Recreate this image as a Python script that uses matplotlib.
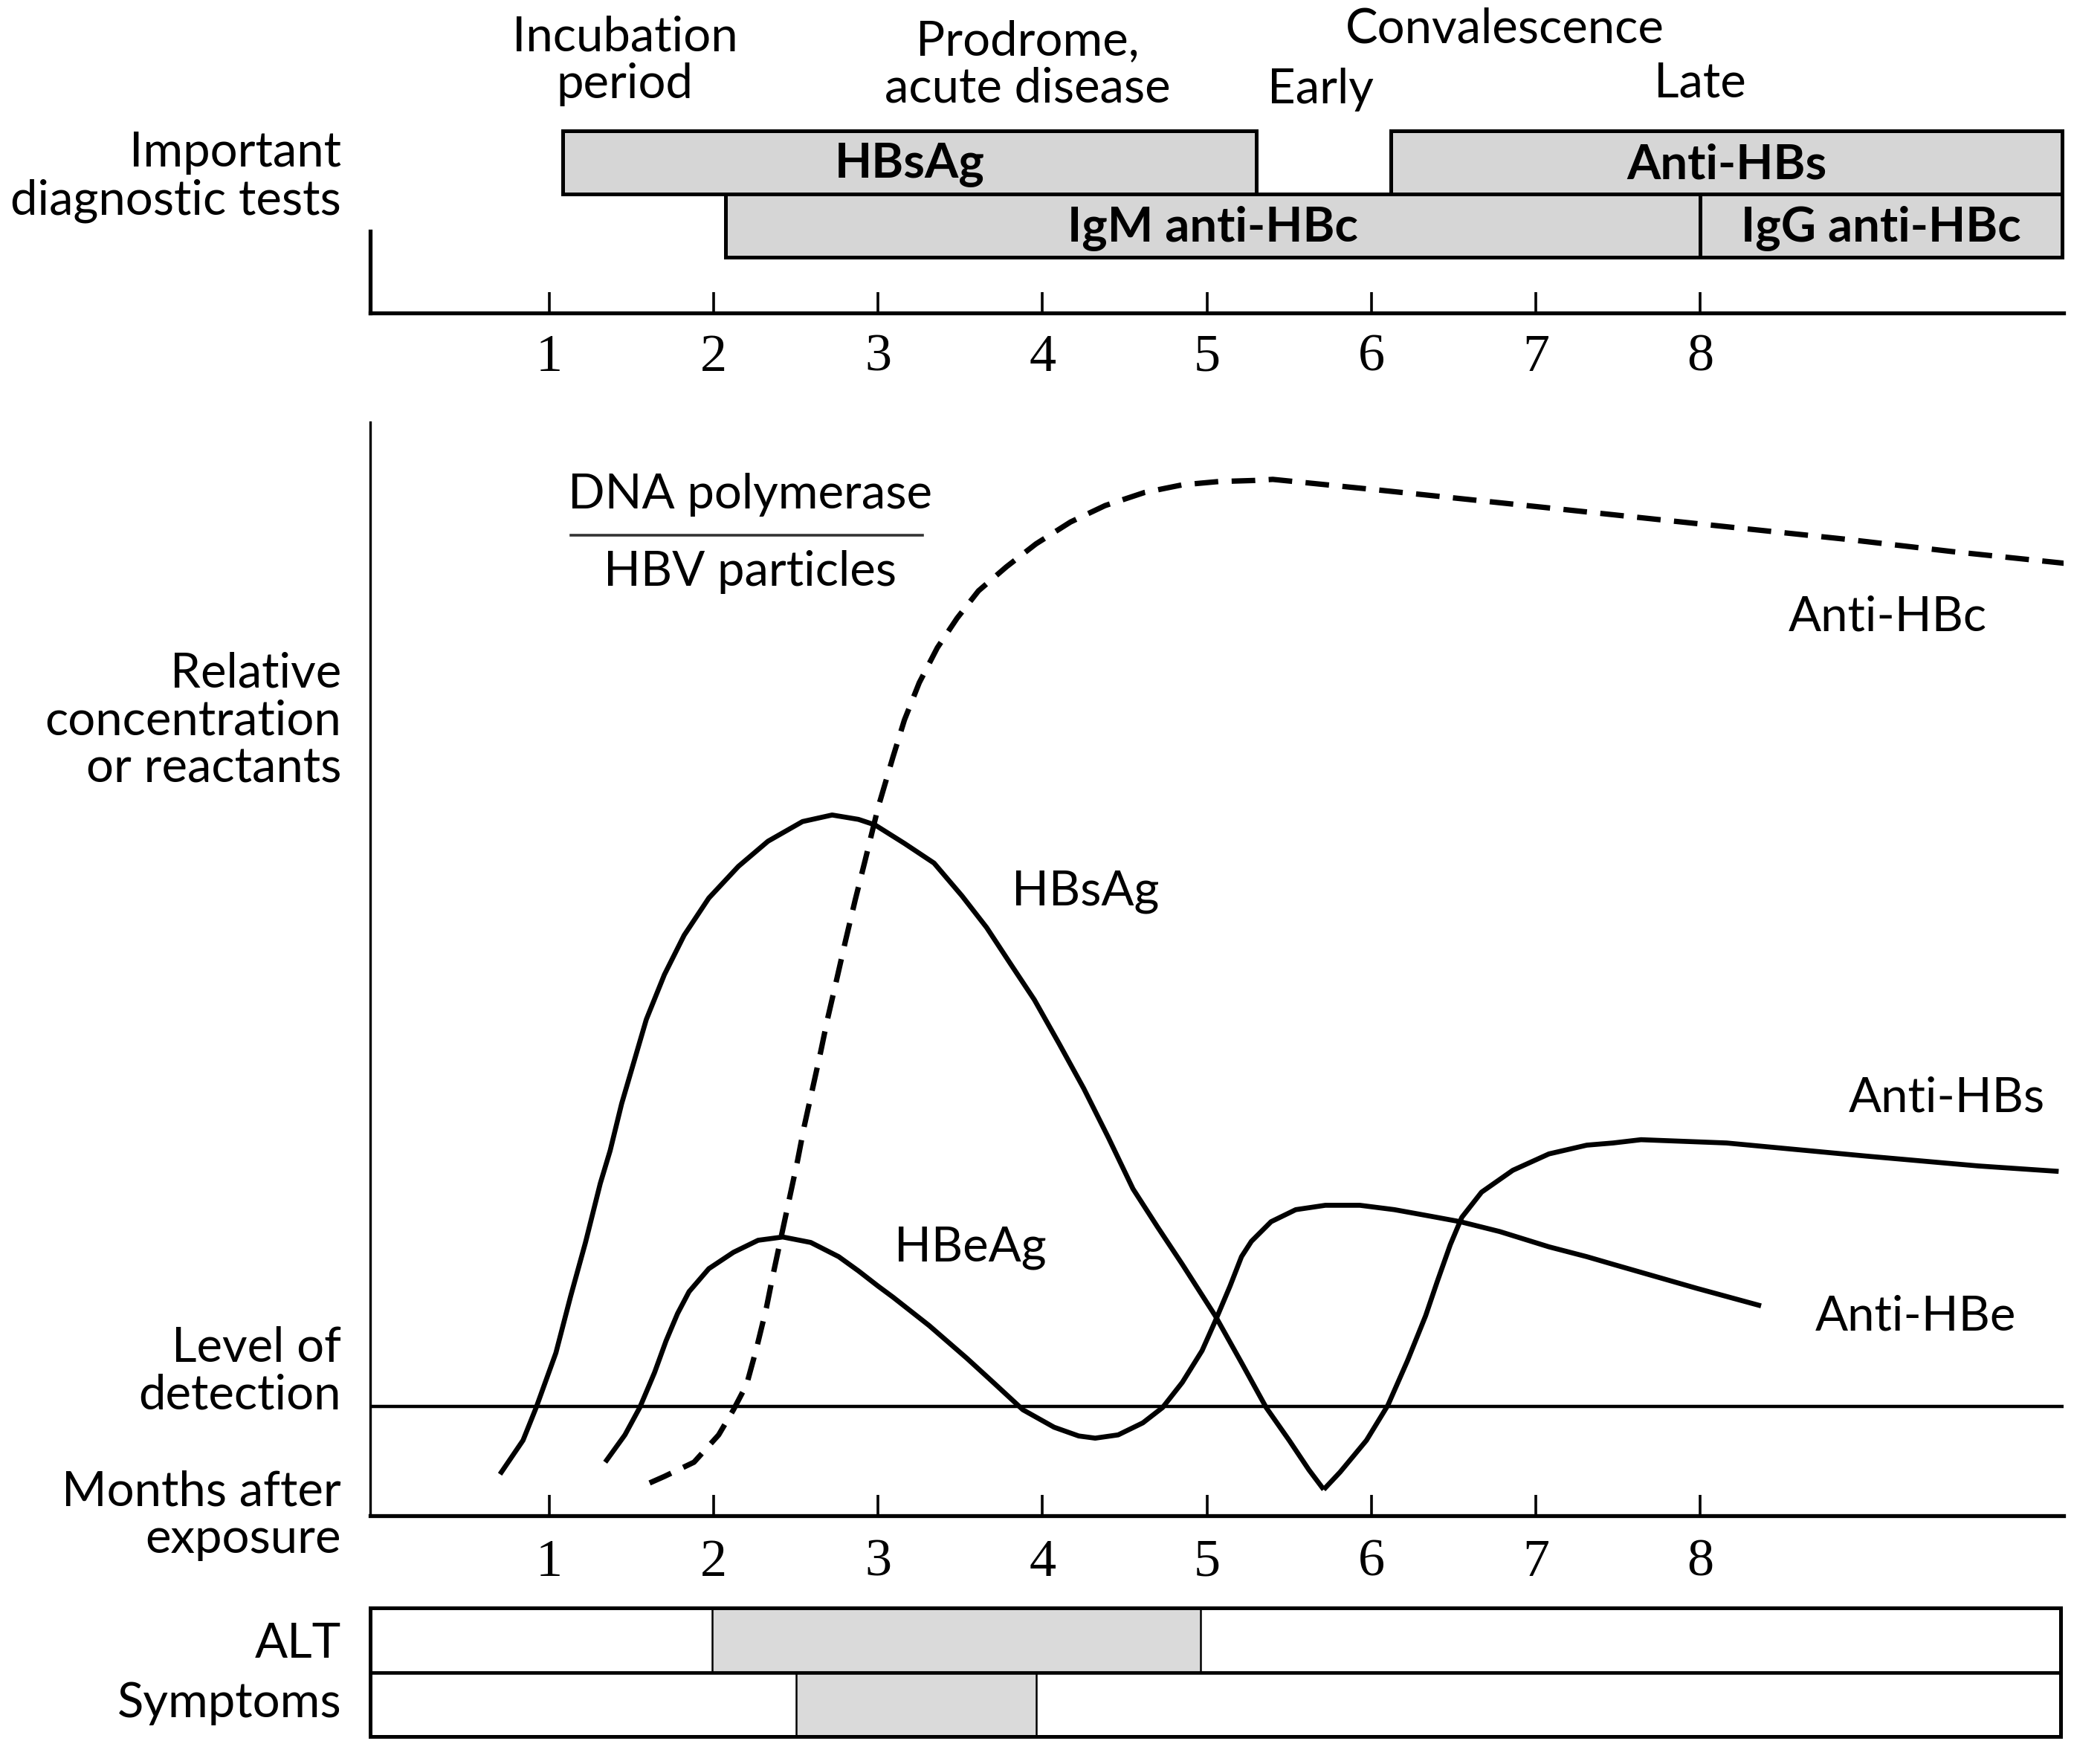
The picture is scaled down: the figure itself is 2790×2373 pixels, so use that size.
import matplotlib
matplotlib.use("Agg")
import matplotlib.pyplot as plt

plt.rcParams["font.family"] = ["Lato", "DejaVu Sans"]

# ---- data (months after exposure, relative level 0-100) ----
MONTHS = [1, 2, 3, 4, 5, 6, 7, 8]
DETECTION_LEVEL = 10.0

hbsag_m = [0.70, 0.84, 0.92, 1.04, 1.13, 1.22, 1.31, 1.37, 1.44, 1.52, 1.59, 1.70,
           1.82, 1.97, 2.15, 2.33, 2.54, 2.72, 2.88, 2.98, 3.16, 3.34, 3.51, 3.66,
           3.80, 3.95, 4.10, 4.25, 4.40, 4.55, 4.70, 4.85, 5.05, 5.21, 5.36, 5.50,
           5.62, 5.71]
hbsag_v = [3.8, 6.9, 9.9, 14.9, 20.1, 25.0, 30.4, 33.4, 37.7, 41.8, 45.4, 49.5,
           53.1, 56.5, 59.4, 61.7, 63.5, 64.1, 63.7, 63.2, 61.5, 59.7, 56.7, 53.8,
           50.6, 47.2, 43.2, 39.1, 34.6, 29.9, 26.4, 23.0, 18.3, 14.0, 9.9, 6.9,
           4.2, 2.4]

anti_hbs_m = [5.71, 5.81, 5.97, 6.10, 6.22, 6.33, 6.40, 6.48, 6.55, 6.67, 6.86, 7.08,
              7.31, 7.47, 7.64, 8.16, 9.01, 9.69, 10.18]
anti_hbs_v = [2.4, 4.0, 6.9, 10.1, 14.2, 18.3, 21.4, 24.8, 27.3, 29.6, 31.6, 33.1,
              33.9, 34.1, 34.4, 34.1, 32.9, 32.0, 31.5]

# HBeAg rising, falling below detection, then Anti-HBe
hbeag_m = [1.34, 1.46, 1.55, 1.64, 1.71, 1.78, 1.85, 1.97, 2.12, 2.27, 2.42, 2.59,
           2.76, 2.88, 3.00, 3.09, 3.31, 3.54, 3.70, 3.88, 4.07, 4.22, 4.32, 4.46,
           4.61, 4.73, 4.85, 4.97, 5.05, 5.14, 5.21, 5.27, 5.39, 5.54, 5.72, 5.93,
           6.14, 6.36, 6.54, 6.78, 7.08, 7.31, 7.47, 7.98, 8.37]
hbeag_v = [4.9, 7.4, 9.9, 13.1, 16.0, 18.5, 20.5, 22.6, 24.1, 25.2, 25.5, 25.0,
           23.7, 22.4, 21.0, 20.0, 17.4, 14.4, 12.2, 9.7, 8.1, 7.3, 7.1, 7.4,
           8.5, 9.9, 12.2, 15.1, 17.8, 21.0, 23.7, 25.1, 26.9, 28.0, 28.4, 28.4,
           28.0, 27.4, 26.9, 26.0, 24.6, 23.7, 23.0, 20.8, 19.2]

anti_hbc_m = [1.61, 1.70, 1.88, 2.03, 2.12, 2.20, 2.26, 2.32, 2.36, 2.41, 2.46, 2.51,
              2.55, 2.60, 2.65, 2.69, 2.75, 2.80, 2.86, 2.92, 3.00, 3.09, 3.16, 3.25,
              3.36, 3.48, 3.61, 3.78, 3.96, 4.17, 4.38, 4.62, 4.85, 5.07, 5.29, 5.40,
              6.06, 7.01, 7.95, 8.90, 9.53, 10.23]
anti_hbc_v = [3.0, 3.6, 4.9, 7.4, 9.7, 12.0, 15.3, 19.0, 22.0, 25.5, 29.0, 32.5,
              35.6, 39.0, 42.4, 45.3, 49.2, 52.5, 56.3, 59.9, 64.8, 69.4, 72.8, 76.2,
              79.4, 82.1, 84.6, 86.8, 88.9, 90.9, 92.4, 93.6, 94.3, 94.6, 94.7, 94.8,
              93.8, 92.3, 90.8, 89.3, 88.2, 87.1]

# diagnostic test windows (start month, end month)
test_names = ["HBsAg", "IgM anti-HBc", "Anti-HBs", "IgG anti-HBc"]
test_start = [1.08, 2.07, 6.12, 8.00]
test_end = [5.30, 8.00, 10.20, 10.20]
test_row = [1, 0, 1, 0]

# ALT / symptoms windows
alt_window = (1.99, 4.96)
symptom_window = (2.50, 3.96)

# ---- layout ----
W, H = 1568.0, 1336.0  # reference frame used for placing things
X_LEFT, X_RIGHT = 280, 1560
XLIM = (-0.0885, 10.209)
FS = 47
FS_NUM = 52
LW_AX = 3.8
LW_CURVE = 4.8
NUM_FONT = ["Liberation Serif", "DejaVu Serif"]


def fx(px):
    return px / W


def fy(py):
    return 1 - py / H


fig = plt.figure(figsize=(27.9, 23.73), dpi=100)

# top: diagnostic tests
ax_top = fig.add_axes([fx(X_LEFT), fy(237), fx(X_RIGHT - X_LEFT), 150 / H])
ax_top.set_xlim(*XLIM)
ax_top.set_ylim(0, 150)
row_y = {1: 90, 0: 42}
row_h = 48
for name, s, e, r in zip(test_names, test_start, test_end, test_row):
    ax_top.barh(row_y[r], e - s, left=s, height=row_h, align="edge",
                color="#d6d6d6", edgecolor="black", linewidth=3.6, clip_on=False)
    ax_top.text((s + e) / 2, row_y[r] + row_h / 2 - 2, name, ha="center", va="center",
                fontsize=FS, fontweight="bold")
for sp in ["top", "right"]:
    ax_top.spines[sp].set_visible(False)
ax_top.spines["bottom"].set_linewidth(LW_AX)
ax_top.spines["left"].set_linewidth(LW_AX)
ax_top.spines["left"].set_bounds(0, 62)
ax_top.set_yticks([])
ax_top.set_xticks(MONTHS)
ax_top.set_xticklabels([str(m) for m in MONTHS], family=NUM_FONT)
ax_top.tick_params(axis="x", direction="in", length=20, width=2.6, pad=20, labelsize=FS_NUM)

# phase labels
ax_top.text(1.46, 191, "Incubation\nperiod", ha="center", va="center", fontsize=FS, linespacing=1.1)
ax_top.text(3.91, 188, "Prodrome,\nacute disease", ha="center", va="center", fontsize=FS, linespacing=1.1)
ax_top.text(6.81, 215, "Convalescence", ha="center", va="center", fontsize=FS)
ax_top.text(5.69, 169, "Early", ha="center", va="center", fontsize=FS)
ax_top.text(8.00, 174, "Late", ha="center", va="center", fontsize=FS)

# main panel
ax = fig.add_axes([fx(X_LEFT), fy(1148), fx(X_RIGHT - X_LEFT), (1148 - 320) / H])
ax.set_xlim(*XLIM)
ax.set_ylim(0, 100)
ax.axhline(DETECTION_LEVEL, color="black", linewidth=3.2)
for xs, ys in [(hbsag_m, hbsag_v), (anti_hbs_m, anti_hbs_v), (hbeag_m, hbeag_v)]:
    ax.plot(xs, ys, color="black", linewidth=LW_CURVE,
            solid_joinstyle="round", solid_capstyle="butt")
ax.plot(anti_hbc_m, anti_hbc_v, color="black", linewidth=5.2,
        linestyle=(0, (4.4, 2.5)), dash_capstyle="butt")

for sp in ["top", "right"]:
    ax.spines[sp].set_visible(False)
ax.spines["bottom"].set_linewidth(LW_AX)
ax.spines["left"].set_linewidth(2.4)
ax.set_yticks([])
ax.set_xticks(MONTHS)
ax.set_xticklabels([str(m) for m in MONTHS], family=NUM_FONT)
ax.tick_params(axis="x", direction="in", length=20, width=2.6, pad=22, labelsize=FS_NUM)

# curve labels
ax.text(2.22, 93.4, "DNA polymerase", ha="center", va="center", fontsize=FS)
ax.plot([1.13, 3.27], [89.7, 89.7], color="#333333", linewidth=2.6)
ax.text(2.22, 86.3, "HBV particles", ha="center", va="center", fontsize=FS)
ax.text(9.14, 82.2, "Anti-HBc", ha="center", va="center", fontsize=FS)
ax.text(4.26, 57.1, "HBsAg", ha="center", va="center", fontsize=FS)
ax.text(9.50, 38.2, "Anti-HBs", ha="center", va="center", fontsize=FS)
ax.text(3.56, 24.5, "HBeAg", ha="center", va="center", fontsize=FS)
ax.text(9.31, 18.2, "Anti-HBe", ha="center", va="center", fontsize=FS)

# bottom: ALT / symptoms
ax_b = fig.add_axes([fx(X_LEFT), fy(1315), fx(1558 - X_LEFT), 97 / H])
ax_b.set_xlim(XLIM[0], 10.193)
ax_b.set_ylim(0, 2)
ax_b.barh(1, alt_window[1] - alt_window[0], left=alt_window[0], height=1, align="edge",
          color="#dadada", edgecolor="black", linewidth=1.8)
ax_b.barh(0, symptom_window[1] - symptom_window[0], left=symptom_window[0], height=1,
          align="edge", color="#dadada", edgecolor="black", linewidth=1.8)
ax_b.axhline(1, color="black", linewidth=3.4)
for sp in ax_b.spines.values():
    sp.set_linewidth(3.6)
ax_b.set_xticks([])
ax_b.set_yticks([])

# left-hand labels
LX = fx(258)
fig.text(LX, fy(134), "Important\ndiagnostic tests", ha="right", va="center", fontsize=FS, linespacing=1.1)
fig.text(LX, fy(546), "Relative\nconcentration\nor reactants", ha="right", va="center", fontsize=FS, linespacing=1.1)
fig.text(LX, fy(1039), "Level of\ndetection", ha="right", va="center", fontsize=FS, linespacing=1.1)
fig.text(LX, fy(1148), "Months after\nexposure", ha="right", va="center", fontsize=FS, linespacing=1.1)
fig.text(LX, fy(1245), "ALT", ha="right", va="center", fontsize=FS)
fig.text(LX, fy(1290), "Symptoms", ha="right", va="center", fontsize=FS)

fig.savefig("out.png", dpi=100)
